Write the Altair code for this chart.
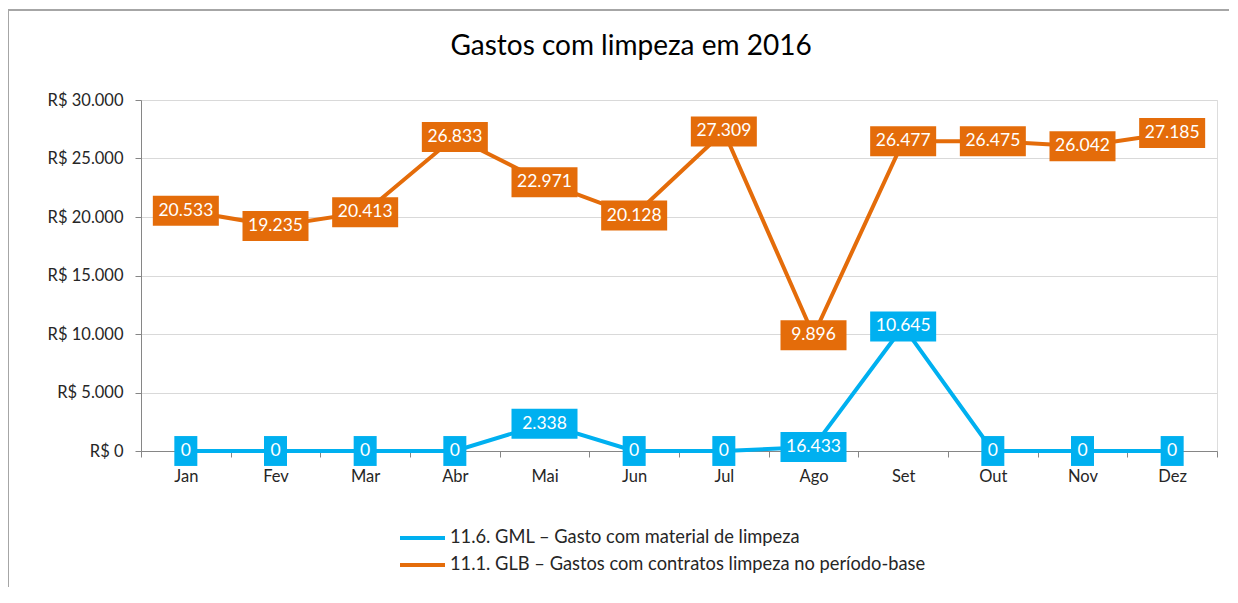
import altair as alt
import pandas as pd

months = ["Jan", "Fev", "Mar", "Abr", "Mai", "Jun", "Jul", "Ago", "Set", "Out", "Nov", "Dez"]
gml_name = "11.6. GML – Gasto com material de limpeza"
glb_name = "11.1. GLB – Gastos com contratos limpeza no período-base"
gml_values = [0, 0, 0, 0, 2338, 0, 0, 350, 10645, 0, 0, 0]
gml_labels = ["0", "0", "0", "0", "2.338", "0", "0", "16.433", "10.645", "0", "0", "0"]
glb_values = [20533, 19235, 20413, 26833, 22971, 20128, 27309, 9896, 26477, 26475, 26042, 27185]
glb_labels = ["20.533", "19.235", "20.413", "26.833", "22.971", "20.128", "27.309", "9.896",
              "26.477", "26.475", "26.042", "27.185"]

rows = []
for m, v, l in zip(months, glb_values, glb_labels):
    rows.append({"mes": m, "serie": glb_name, "valor": v, "rotulo": l})
for m, v, l in zip(months, gml_values, gml_labels):
    rows.append({"mes": m, "serie": gml_name, "valor": v, "rotulo": l})
df = pd.DataFrame(rows)

FONT = "Lato"
BLUE = "#00B0F0"
ORANGE = "#E46C0A"
TXT = "#262626"

x = alt.X("mes:N", sort=months, title=None,
          scale=alt.Scale(paddingInner=0, paddingOuter=0),
          axis=alt.Axis(labelAngle=0, tickBand="extent", tickSize=6, tickColor="#868686",
                        domainColor="#868686", labelFont=FONT, labelFontSize=16.5,
                        labelColor=TXT, labelPadding=11, grid=False))
y = alt.Y("valor:Q", title=None,
          scale=alt.Scale(domain=[0, 30000], nice=False),
          axis=alt.Axis(values=[0, 5000, 10000, 15000, 20000, 25000, 30000],
                        labelExpr="'R$ ' + replace(format(datum.value, ','), ',', '.')",
                        tickSize=6, tickColor="#868686", domainColor="#868686",
                        gridColor="#d9d9d9", labelFont=FONT, labelFontSize=16.5,
                        labelColor=TXT, labelPadding=12))
color_scale = alt.Scale(domain=[gml_name, glb_name], range=[BLUE, ORANGE])

base = alt.Chart(df)

lines = base.mark_line(strokeWidth=4).encode(
    x=x, y=y,
    color=alt.Color("serie:N", scale=color_scale, title=None,
                    legend=alt.Legend(orient="none", legendX=257, legendY=430,
                                      symbolType="stroke", symbolStrokeWidth=4,
                                      symbolSize=2025, clipHeight=16, rowPadding=8,
                                      labelFont=FONT, labelFontSize=18.3, labelColor=TXT,
                                      labelOffset=3, labelLimit=700)),
    detail="serie:N",
)

wide = base.transform_filter("datum.rotulo != '0'").mark_point(
    filled=True, opacity=1, strokeWidth=0,
    shape="M-1,-0.4545H1V0.4545H-1Z", size=4356).encode(
    x=x, y=y, color=alt.Color("serie:N", scale=color_scale, legend=None))

narrow = base.transform_filter("datum.rotulo == '0'").mark_point(
    filled=True, opacity=1, strokeWidth=0,
    shape="M-1,-1.3H1V1.3H-1Z", size=529).encode(
    x=x, y=y, color=alt.Color("serie:N", scale=color_scale, legend=None))

texts = base.mark_text(color="white", fontSize=17.5, font=FONT, align="center",
                       baseline="middle").encode(x=x, y=y, text="rotulo:N")

frame_top = alt.Chart(pd.DataFrame({"a": [0]})).mark_rule(color="#a6a6a6", strokeWidth=2).encode(
    x=alt.value(-133), x2=alt.value(1100), y=alt.value(-90))
frame_left = alt.Chart(pd.DataFrame({"a": [0]})).mark_rule(color="#a6a6a6", strokeWidth=2).encode(
    x=alt.value(-133), y=alt.value(-90), y2=alt.value(520))

chart = alt.layer(lines, wide, narrow, texts, frame_top, frame_left).properties(
    width=1076, height=351,
    padding={"left": 133, "top": 92, "right": 12, "bottom": 136},
    autosize=alt.AutoSizeParams(type="none"),
    title=alt.TitleParams("Gastos com limpeza em 2016", fontSize=28, font=FONT,
                          fontWeight="normal", color="#000000", anchor="middle",
                          frame="group", baseline="alphabetic",
                          dx=-48, offset=-74),
).configure_view(stroke=None).configure(background="white")

chart.save("out.html", embed_options={"renderer": "svg", "actions": False})
